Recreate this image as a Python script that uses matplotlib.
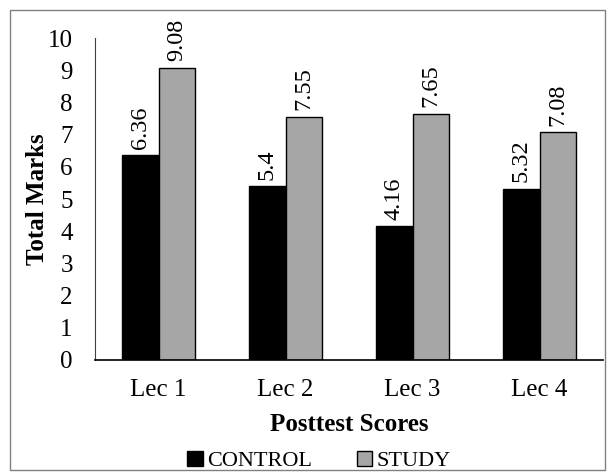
import matplotlib
matplotlib.use("Agg")
import matplotlib.pyplot as plt
import numpy as np
from matplotlib.patches import Rectangle

categories = ["Lec 1", "Lec 2", "Lec 3", "Lec 4"]
control = [6.36, 5.4, 4.16, 5.32]
study = [9.08, 7.55, 7.65, 7.08]
control_labels = ["6.36", "5.4", "4.16", "5.32"]
study_labels = ["9.08", "7.55", "7.65", "7.08"]

plt.rcParams['font.family'] = ['Liberation Serif', 'DejaVu Serif']

fig = plt.figure(figsize=(6.1, 4.75), dpi=100)
ax = fig.add_axes([95/610, 1-360/475, 508/610, 322/475])

x = np.arange(len(categories))
w = 0.29
b1 = ax.bar(x - w/2, control, w, color='black', edgecolor='black', linewidth=1, label='CONTROL')
b2 = ax.bar(x + w/2, study, w, color='#a6a6a6', edgecolor='black', linewidth=1, label='STUDY')

for rect, lab in zip(b1, control_labels):
    ax.text(rect.get_x() + rect.get_width()/2, rect.get_height() + 0.2, lab,
            rotation=90, ha='center', va='bottom', fontsize=17.5)
for rect, lab in zip(b2, study_labels):
    ax.text(rect.get_x() + rect.get_width()/2, rect.get_height() + 0.2, lab,
            rotation=90, ha='center', va='bottom', fontsize=17.5)

ax.set_xlim(-0.5, 3.5)
ax.set_ylim(0, 10)
ax.set_yticks(range(0, 11))
ax.set_xticks(x)
ax.set_xticklabels(categories)
ax.tick_params(axis='both', length=0, labelsize=18)
ax.tick_params(axis='y', pad=16)
ax.tick_params(axis='x', pad=14)
for s in ['top', 'right']:
    ax.spines[s].set_visible(False)
ax.spines['left'].set_color('#404040')
ax.spines['left'].set_linewidth(0.8)
ax.spines['bottom'].set_linewidth(1.2)

ax.set_ylabel('Total Marks', fontsize=18, fontweight='bold')
ax.yaxis.set_label_coords(-0.09, 0.5)
ax.set_xlabel('Posttest Scores', fontsize=18, fontweight='bold', labelpad=8)

leg = fig.legend(handles=[b1, b2], loc='center', bbox_to_anchor=(0.523, 1-461/475),
                 ncol=2, frameon=False, fontsize=16, handlelength=0.7, handleheight=0.7,
                 handletextpad=0.2, columnspacing=2.0)

fig.patches.append(Rectangle((10/610, 5/475), 595/610, 460/475, transform=fig.transFigure,
                             fill=False, edgecolor='#808080', linewidth=1))

fig.savefig('out.png', dpi=100)
